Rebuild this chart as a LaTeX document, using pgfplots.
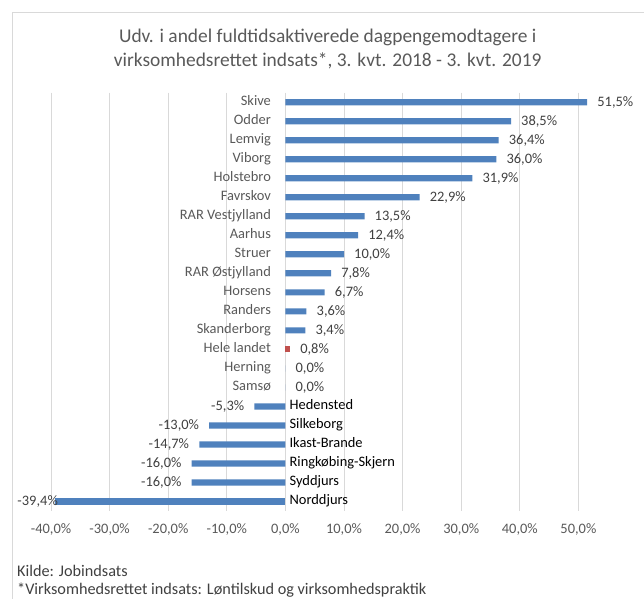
\documentclass[border=0pt]{standalone}
\usepackage{pgfplots}
\pgfplotsset{compat=1.18}
\usepackage{pgfplotstable}
\usepackage{fontspec}
\setmainfont{Carlito}
\definecolor{barblue}{HTML}{4F81BD}
\definecolor{barred}{HTML}{C0504D}
\definecolor{txtgray}{HTML}{595959}
\definecolor{valgray}{HTML}{404040}
\definecolor{gridgray}{HTML}{D9D9D9}
\tikzset{
  valstyle/.style={inner sep=0pt, text height=0.64em, text depth=0pt, yshift=-1bp, text=valgray, font=\fontsize{14.5}{17}\selectfont},
  catstyle/.style={inner sep=0pt, text height=0.64em, text depth=0pt, font=\fontsize{14.5}{17}\selectfont},
}

\pgfplotstableread{
idx name value
0 Skive 51.5
1 Odder 38.5
2 Lemvig 36.4
3 Viborg 36.0
4 Holstebro 31.9
5 Favrskov 22.9
6 {RAR Vestjylland} 13.5
7 Aarhus 12.4
8 Struer 10.0
9 {RAR Østjylland} 7.8
10 Horsens 6.7
11 Randers 3.6
12 Skanderborg 3.4
14 Herning 0.0
15 Samsø 0.0
}\pos

\pgfplotstableread{
idx name value
13 {Hele landet} 0.8
}\tot

\pgfplotstableread{
idx name value
16 Hedensted -5.3
17 Silkeborg -13.0
18 Ikast-Brande -14.7
19 Ringkøbing-Skjern -16.0
20 Syddjurs -16.0
}\neg

\pgfplotstableread{
idx name value
21 Norddjurs -39.4
}\negb

\begin{document}
\begin{tikzpicture}
\useasboundingbox (0bp,0bp) rectangle (644bp,-599bp);
\draw[gridgray, line width=1bp] (12bp,-599bp) -- (12bp,-12.3bp) -- (644bp,-12.3bp);
\node[anchor=base, inner sep=0pt, text=txtgray, font=\fontsize{19.5}{23}\selectfont] at (327.7bp,-42.2bp) {Udv. i andel fuldtidsaktiverede dagpengemodtagere i};
\node[anchor=base, inner sep=0pt, text=txtgray, font=\fontsize{19.5}{23}\selectfont] at (327.7bp,-66.5bp) {virksomhedsrettet indsats*, 3. kvt. 2018 - 3. kvt. 2019};
\begin{axis}[
  at={(51bp,-511bp)}, anchor=south west,
  scale only axis, width=591.86bp, height=418.3bp,
  xmin=-40, xmax=61, ymin=-0.5, ymax=21.5, y dir=reverse,
  axis line style={draw=none},
  major tick length=0pt,
  ytick=\empty,
  xtick={-40,-30,...,50},
  xmajorgrids, major grid style={gridgray, line width=0.8bp},
  /pgf/number format/assume math mode=true,
  xticklabel={\pgfmathprintnumber[fixed,fixed zerofill,precision=1,use comma]{\tick}\%},
  xticklabel style={anchor=north, inner sep=0pt, text height=0.64em, text depth=0pt, yshift=-16bp, text=txtgray, font=\fontsize{14.5}{17}\selectfont},
  clip=false,
]
% bars
\addplot[xbar, bar width=6.2bp, bar shift=0pt, fill=barblue, draw=none,
  point meta=x, nodes near coords={\pgfmathprintnumber[fixed,fixed zerofill,precision=1,use comma]{\pgfplotspointmeta}\%},
  every node near coord/.append style={valstyle, anchor=west, xshift=10bp}]
  table[x=value, y=idx] {\pos};
\addplot[xbar, bar width=6.2bp, bar shift=0pt, fill=barred, draw=none,
  point meta=x, nodes near coords={\pgfmathprintnumber[fixed,fixed zerofill,precision=1,use comma]{\pgfplotspointmeta}\%},
  every node near coord/.append style={valstyle, anchor=west, xshift=10bp}]
  table[x=value, y=idx] {\tot};
\addplot[xbar, bar width=6.2bp, bar shift=0pt, fill=barblue, draw=none,
  point meta=x, nodes near coords={\pgfmathprintnumber[fixed,fixed zerofill,precision=1,use comma]{\pgfplotspointmeta}\%},
  every node near coord/.append style={valstyle, anchor=east, xshift=-10bp}]
  table[x=value, y=idx] {\neg};
\addplot[xbar, bar width=6.2bp, bar shift=0pt, fill=barblue, draw=none,
  point meta=x, nodes near coords={\pgfmathprintnumber[fixed,fixed zerofill,precision=1,use comma]{\pgfplotspointmeta}\%},
  every node near coord/.append style={valstyle, anchor=east, xshift=3.5bp}]
  table[x=value, y=idx] {\negb};
% category labels
\addplot[draw=none, mark=none, nodes near coords, point meta=explicit symbolic,
  every node near coord/.append style={catstyle, anchor=east, xshift=-14.3bp, text=txtgray}]
  table[x expr=0, y=idx, meta=name] {\pos};
\addplot[draw=none, mark=none, nodes near coords, point meta=explicit symbolic,
  every node near coord/.append style={catstyle, anchor=east, xshift=-14.3bp, text=txtgray}]
  table[x expr=0, y=idx, meta=name] {\tot};
\addplot[draw=none, mark=none, nodes near coords, point meta=explicit symbolic,
  every node near coord/.append style={catstyle, anchor=west, xshift=4bp, text=black}]
  table[x expr=0, y=idx, meta=name] {\neg};
\addplot[draw=none, mark=none, nodes near coords, point meta=explicit symbolic,
  every node near coord/.append style={catstyle, anchor=west, xshift=4bp, text=black}]
  table[x expr=0, y=idx, meta=name] {\negb};
\end{axis}
\node[anchor=base west, inner sep=0pt, text=valgray, font=\fontsize{16.3}{19}\selectfont] at (17bp,-576bp) {Kilde: Jobindsats};
\node[anchor=base west, inner sep=0pt, text=valgray, font=\fontsize{16.3}{19}\selectfont] at (17bp,-594bp) {*Virksomhedsrettet indsats: Løntilskud og virksomhedspraktik};
\end{tikzpicture}
\end{document}
